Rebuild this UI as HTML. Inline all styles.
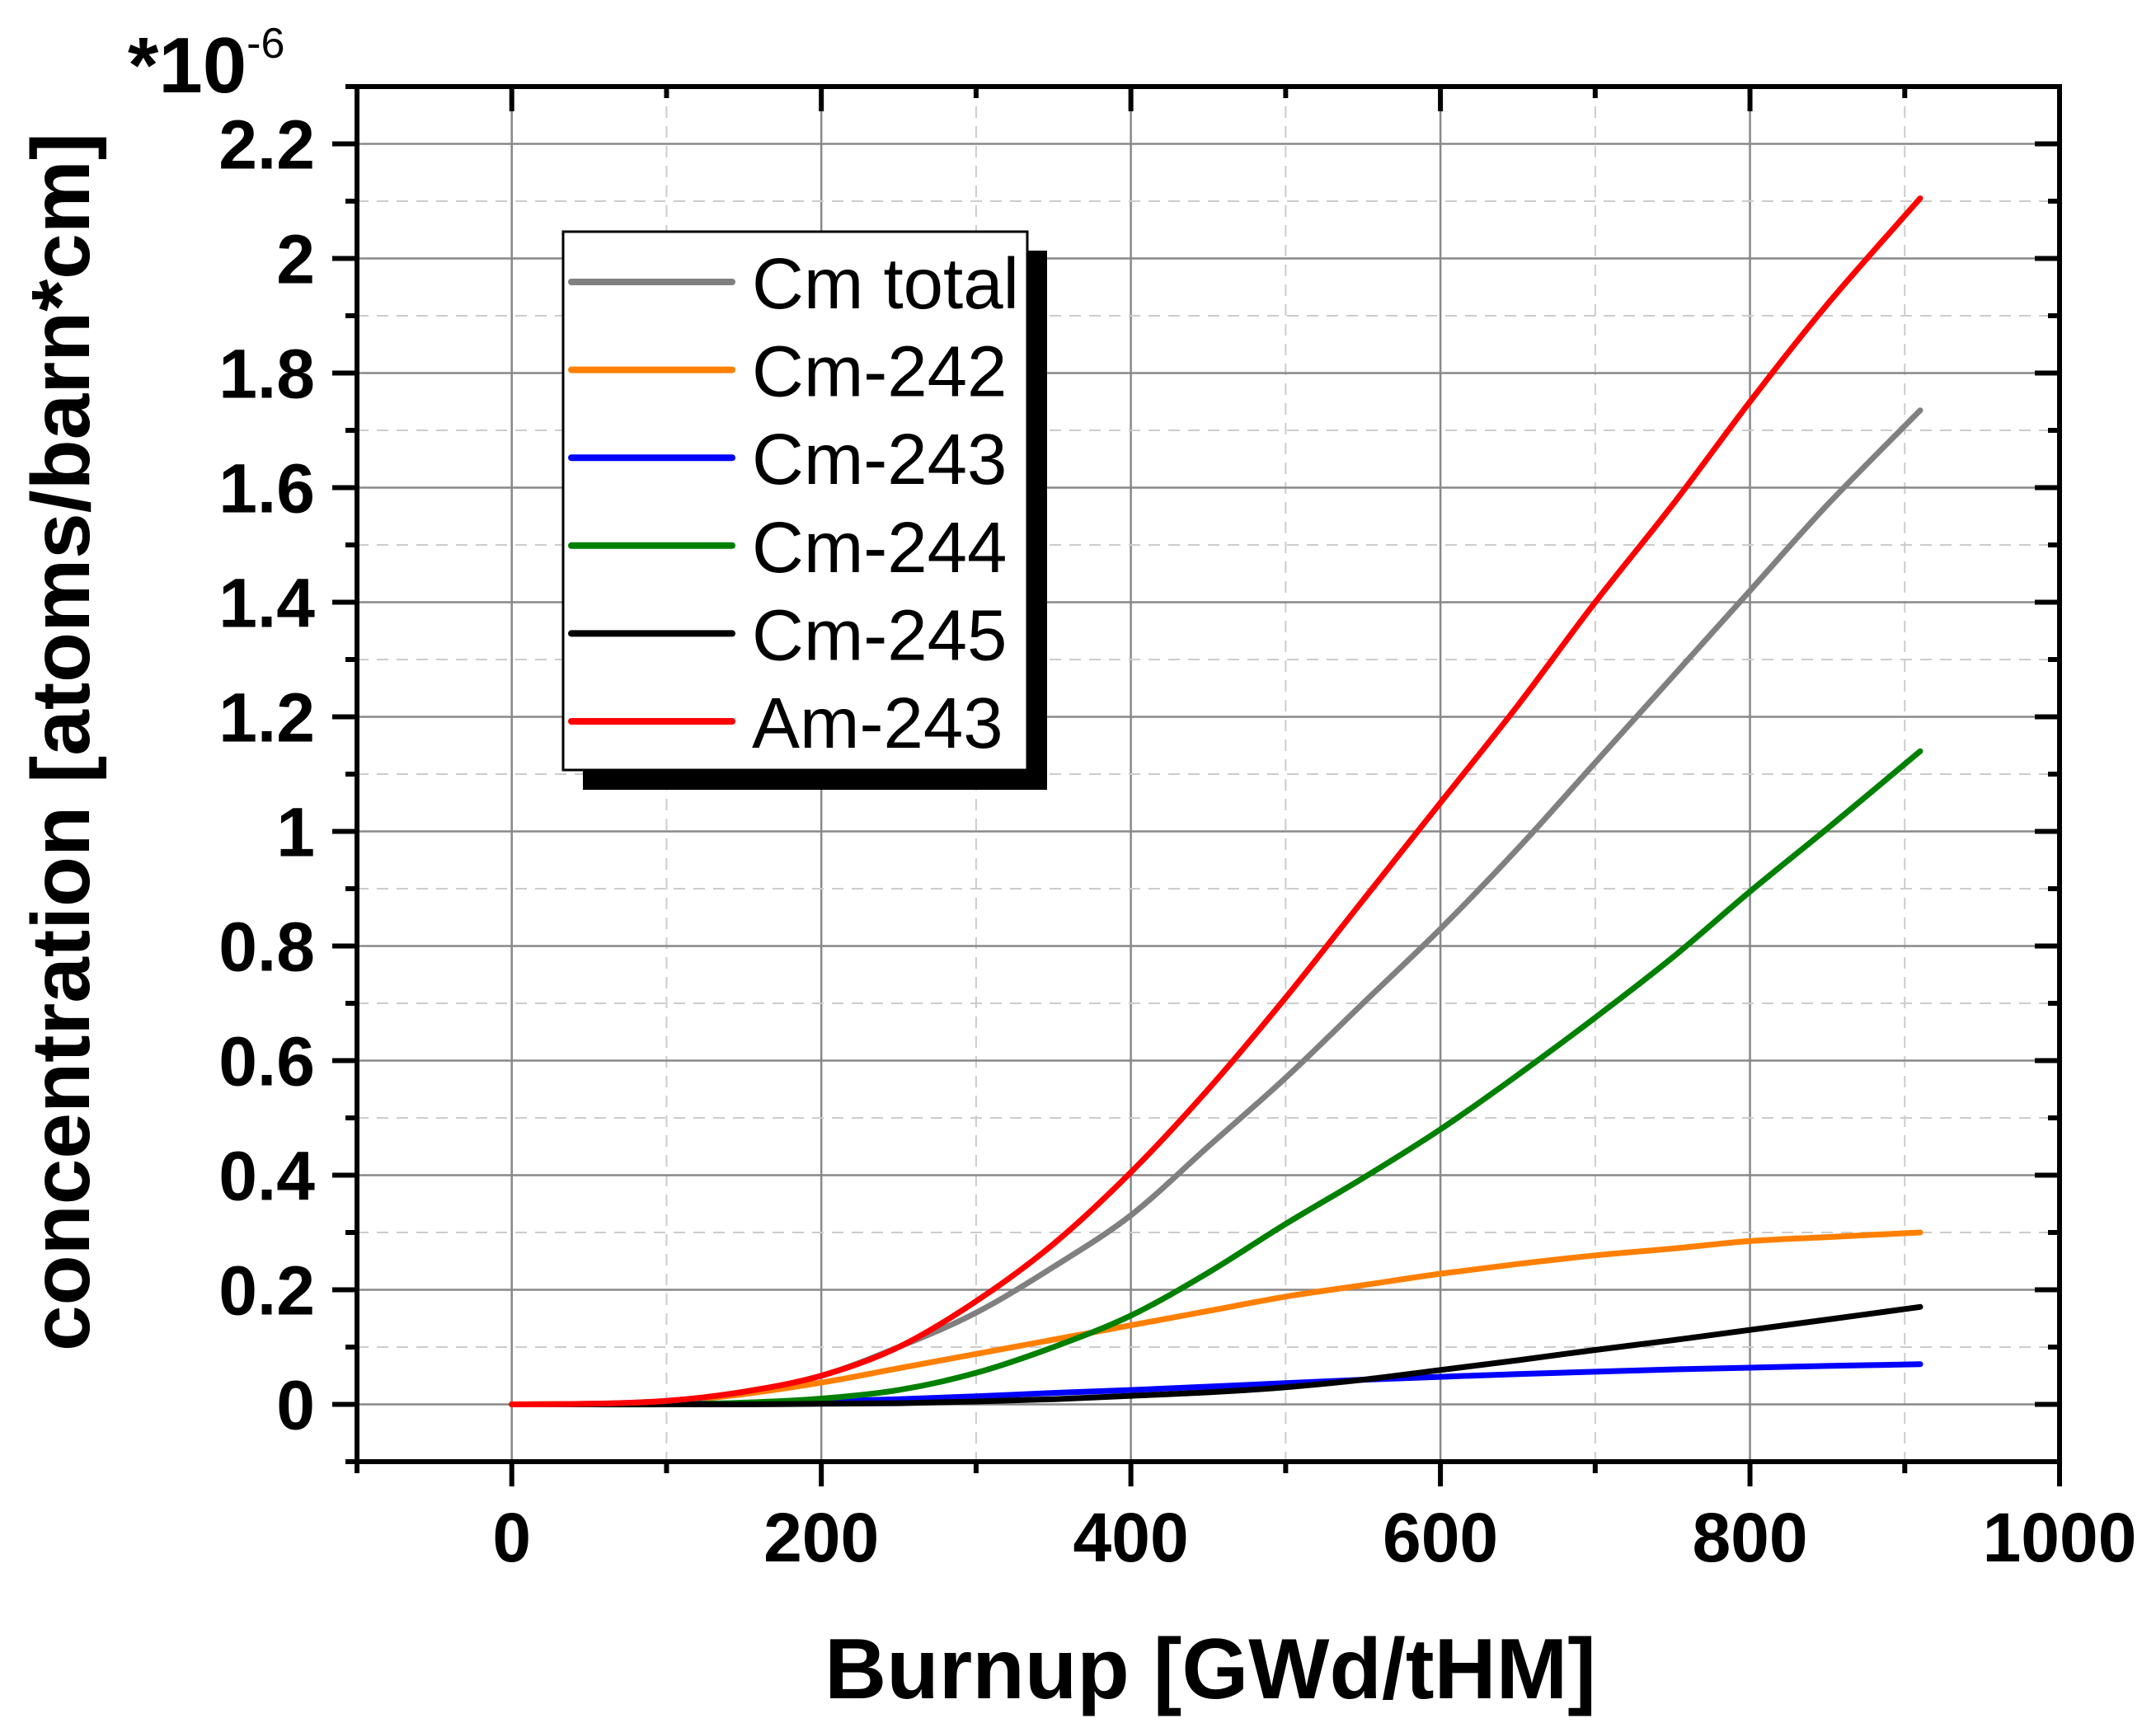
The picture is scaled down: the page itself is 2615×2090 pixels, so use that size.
<!DOCTYPE html>
<html><head><meta charset="utf-8"><style>
html,body{margin:0;padding:0;background:#fff}
svg{display:block}
text{font-family:"Liberation Sans",Arial,sans-serif}
</style></head>
<body>
<svg id="chart" width="2615" height="2090" viewBox="0 0 2615 2090" xmlns="http://www.w3.org/2000/svg"></svg>
<script>
const xs = [0,50,100,150,200,250,300,350,400,450,500,550,600,650,700,750,800,850,910];
const seriesNames = ["Cm total","Cm-242","Cm-243","Cm-244","Cm-245","Am-243"];
const seriesColors = ["#808080","#ff7f00","#0000ff","#008000","#000000","#ff0000"];
const cmTotal = [0,0.001,0.006,0.022,0.05,0.1,0.16,0.24,0.33,0.45,0.57,0.70,0.83,0.97,1.12,1.27,1.42,1.57,1.735];
const cm242   = [0,0.001,0.004,0.018,0.038,0.063,0.088,0.113,0.138,0.163,0.188,0.208,0.228,0.245,0.26,0.272,0.285,0.292,0.30];
const cm243   = [0,0,0.001,0.002,0.005,0.009,0.014,0.02,0.025,0.031,0.037,0.043,0.048,0.053,0.057,0.061,0.064,0.067,0.07];
const cm244   = [0,0,0,0.003,0.01,0.025,0.055,0.1,0.155,0.23,0.315,0.395,0.48,0.575,0.675,0.78,0.895,1.005,1.14];
const cm245   = [0,0,0,0,0.001,0.002,0.005,0.009,0.015,0.021,0.03,0.043,0.06,0.077,0.095,0.112,0.13,0.148,0.17];
const am243   = [0,0.001,0.006,0.022,0.05,0.1,0.18,0.28,0.405,0.55,0.71,0.88,1.05,1.22,1.40,1.57,1.75,1.92,2.105];
const seriesValues = [cmTotal,cm242,cm243,cm244,cm245,am243];
const xTickLabels = ["0","200","400","600","800","1000"];
const yTickLabels = ["0","0.2","0.4","0.6","0.8","1","1.2","1.4","1.6","1.8","2","2.2"];

const NS="http://www.w3.org/2000/svg";
const svg=document.getElementById('chart');
const L=433,R=2498,T=105,B=1773;
const xMin=-100,xMax=1000,yMin=-0.1,yMax=2.3;
function X(v){return L+(v-xMin)/(xMax-xMin)*(R-L);}
function Y(v){return B-(v-yMin)/(yMax-yMin)*(B-T);}
function mk(tag,attrs,parent){const e=document.createElementNS(NS,tag);for(const k in attrs)e.setAttribute(k,attrs[k]);(parent||svg).appendChild(e);return e;}
function smoothPath(px,py){
  let d='M'+px[0].toFixed(1)+','+py[0].toFixed(1);
  for(let i=0;i<px.length-1;i++){
    const x0=px[Math.max(i-1,0)],y0=py[Math.max(i-1,0)];
    const x1=px[i],y1=py[i],x2=px[i+1],y2=py[i+1];
    const x3=px[Math.min(i+2,px.length-1)],y3=py[Math.min(i+2,px.length-1)];
    const c1x=x1+(x2-x0)/6,c1y=y1+(y2-y0)/6,c2x=x2-(x3-x1)/6,c2y=y2-(y3-y1)/6;
    d+=' C'+c1x.toFixed(1)+','+c1y.toFixed(1)+' '+c2x.toFixed(1)+','+c2y.toFixed(1)+' '+x2.toFixed(1)+','+y2.toFixed(1);
  }
  return d;
}

const grid=mk('g',{});


for(let v=-100;v<=1000;v+=100){
  const major=v%200===0;
  if(v===-100||v===1000)continue;
  mk('line',{x1:X(v),x2:X(v),y1:T,y2:B,stroke:major?'#888':'#ccc','stroke-width':major?2.5:2,'stroke-dasharray':major?'none':'14,10'},grid);
}
for(let i=0;i<=22;i++){
  const v=i/10;const major=i%2===0;
  mk('line',{x1:L,x2:R,y1:Y(v),y2:Y(v),stroke:major?'#888':'#ccc','stroke-width':major?2.5:2,'stroke-dasharray':major?'none':'14,10'},grid);
}

const plot=mk('g',{});


const drawOrder=[1,2,3,4,0,5];
drawOrder.forEach(i=>{
  const px=xs.map(X),py=seriesValues[i].map(Y);
  const pl=mk('path',{d:smoothPath(px,py),fill:'none',stroke:seriesColors[i],'stroke-width':7,'stroke-linejoin':'round','stroke-linecap':'round'},plot);
  
  
});

const ax=mk('g',{});


mk('rect',{x:L,y:T,width:R-L,height:B-T,fill:'none',stroke:'#000','stroke-width':6},ax);
for(let v=-100;v<=1000;v+=100){
  const major=v%200===0;const len=major?30:14;
  mk('line',{x1:X(v),x2:X(v),y1:B,y2:B+len,stroke:'#000','stroke-width':6},ax);
  mk('line',{x1:X(v),x2:X(v),y1:T,y2:T+(major?30:14),stroke:'#000','stroke-width':6},ax);
}
for(let i=-1;i<=23;i++){
  const v=i/10;const major=((i%2)+2)%2===0;const len=major?30:14;
  mk('line',{x1:L-len,x2:L,y1:Y(v),y2:Y(v),stroke:'#000','stroke-width':6},ax);
  mk('line',{x1:R-len,x2:R,y1:Y(v),y2:Y(v),stroke:'#000','stroke-width':6},ax);
}
xTickLabels.forEach((s,i)=>{
  const t=mk('text',{x:X(i*200),y:1894,'text-anchor':'middle','font-size':84,'font-weight':'bold'},ax);
  t.textContent=s;
  
  
});
yTickLabels.forEach((s,i)=>{
  const t=mk('text',{x:382,y:Y(i*0.2)+30,'text-anchor':'end','font-size':84,'font-weight':'bold'},ax);
  t.textContent=s;
  
  
});
const xt=mk('text',{x:1468,y:2060,'text-anchor':'middle','font-size':104,'font-weight':'bold'});
xt.textContent='Burnup [GWd/tHM]';


const yt=mk('text',{x:0,y:0,'text-anchor':'middle','font-size':100,'font-weight':'bold',transform:'translate(108,900) rotate(-90)'});
yt.textContent='concentration [atoms/barn*cm]';


const mul=mk('text',{x:155,y:112,'font-size':96,'font-weight':'bold'});
mul.innerHTML='*10<tspan font-size="52" font-weight="normal" dy="-42">-6</tspan>';



const lg=mk('g',{});


mk('rect',{x:707,y:304,width:563,height:654,fill:'#000'},lg);
mk('rect',{x:683,y:281,width:563,height:653,fill:'#fff',stroke:'#000','stroke-width':3},lg);
seriesNames.forEach((n,i)=>{
  const y=342+i*106.6;
  const e=mk('g',{},lg);
  
  
  mk('line',{x1:693,x2:888,y1:y,y2:y,stroke:seriesColors[i],'stroke-width':8,'stroke-linecap':'round'},e);
  const t=mk('text',{x:912,y:y+32,'font-size':87},e);
  t.textContent=n;
});
</script>
</body></html>
